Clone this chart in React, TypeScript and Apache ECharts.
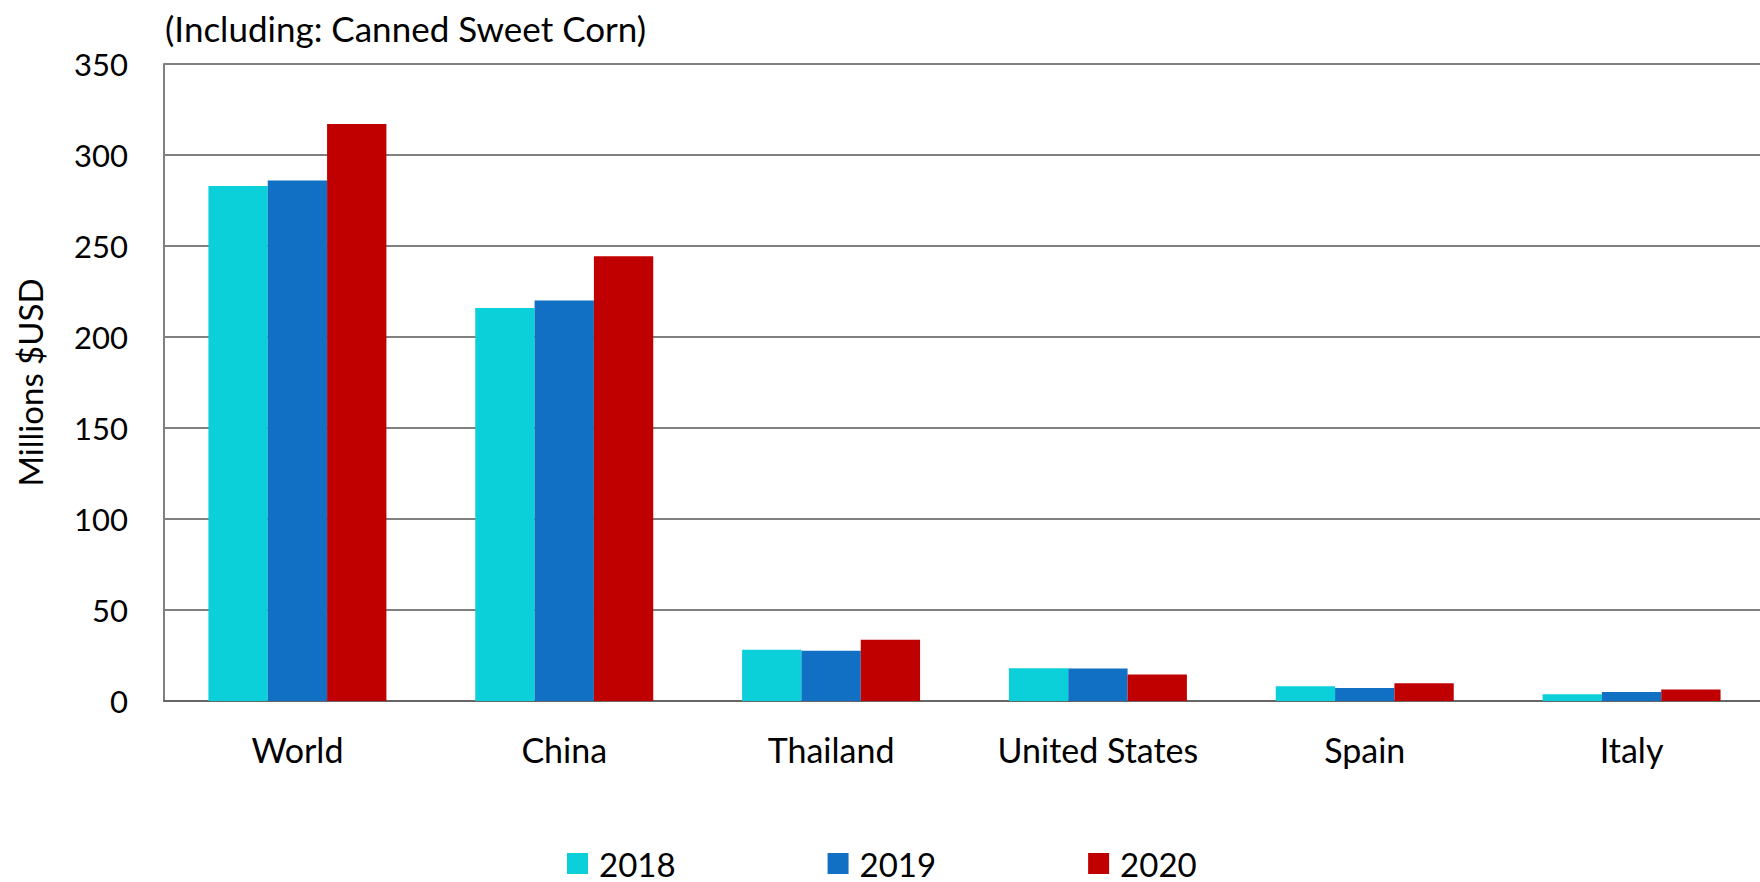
import React, { useEffect, useRef } from "react";
import * as echarts from "echarts";

const categories = ["World", "China", "Thailand", "United States", "Spain", "Italy"];
const seriesNames = ["2018", "2019", "2020"];
const values2018 = [283, 216, 28.1, 18.0, 8.1, 3.7];
const values2019 = [286, 220, 27.6, 17.8, 7.2, 5.0];
const values2020 = [317, 244.3, 33.6, 14.5, 9.7, 6.3];
const colors = ["#0BCFD9", "#1170C4", "#C00000"];
const yTicks = { min: 0, max: 350, interval: 50 };
const subtitle = "(Including: Canned Sweet Corn)";
const yName = "Millions $USD";

const FONT = "Lato, 'Noto Sans', sans-serif";

export default function App() {
  const ref = useRef<HTMLDivElement>(null);
  useEffect(() => {
    if (!ref.current) return;
    const chart = echarts.init(ref.current, null, { renderer: "svg" });
    const data = [values2018, values2019, values2020];
    chart.setOption({
      animation: false,
      textStyle: { fontFamily: FONT },
      title: {
        text: subtitle,
        left: 160,
        top: 5,
        textStyle: { fontFamily: FONT, fontSize: 35, fontWeight: "normal", color: "#000" },
      },
      legend: {
        bottom: -3,
        left: 562,
        itemWidth: 21,
        itemHeight: 21,
        itemGap: 152,
        icon: "rect",
        data: seriesNames,
        textStyle: { fontFamily: FONT, fontSize: 33, color: "#000", padding: [0, 0, 0, 6] },
      },
      grid: {
        left: 164,
        right: -5,
        top: 64,
        bottom: 181,
        containLabel: false,
        outerBoundsMode: "none",
      },
      xAxis: {
        type: "category",
        data: categories,
        axisLine: { show: true, lineStyle: { color: "#666", width: 2 } },
        axisTick: { show: false },
        axisLabel: { fontFamily: FONT, fontSize: 34, color: "#000", margin: 31 },
      },
      yAxis: {
        type: "value",
        min: yTicks.min,
        max: yTicks.max,
        interval: yTicks.interval,
        name: yName,
        nameLocation: "middle",
        nameGap: 118,
        nameRotate: 90,
        nameTextStyle: { fontFamily: FONT, fontSize: 33, color: "#000" },
        axisLine: { show: true, lineStyle: { color: "#808080", width: 2 } },
        axisTick: { show: false },
        axisLabel: { fontFamily: FONT, fontSize: 31, color: "#000", margin: 36 },
        splitLine: { show: true, lineStyle: { color: "#808080", width: 2 } },
      },
      series: seriesNames.map((name, i) => ({
        name,
        type: "bar",
        data: data[i],
        barGap: "0%",
        barCategoryGap: "33.3%",
        itemStyle: { color: colors[i] },
      })),
    });
    return () => chart.dispose();
  }, []);
  return (
    <div
      ref={ref}
      style={{ position: "fixed", left: 0, top: 0, width: 1760, height: 882, background: "#fff" }}
    />
  );
}
